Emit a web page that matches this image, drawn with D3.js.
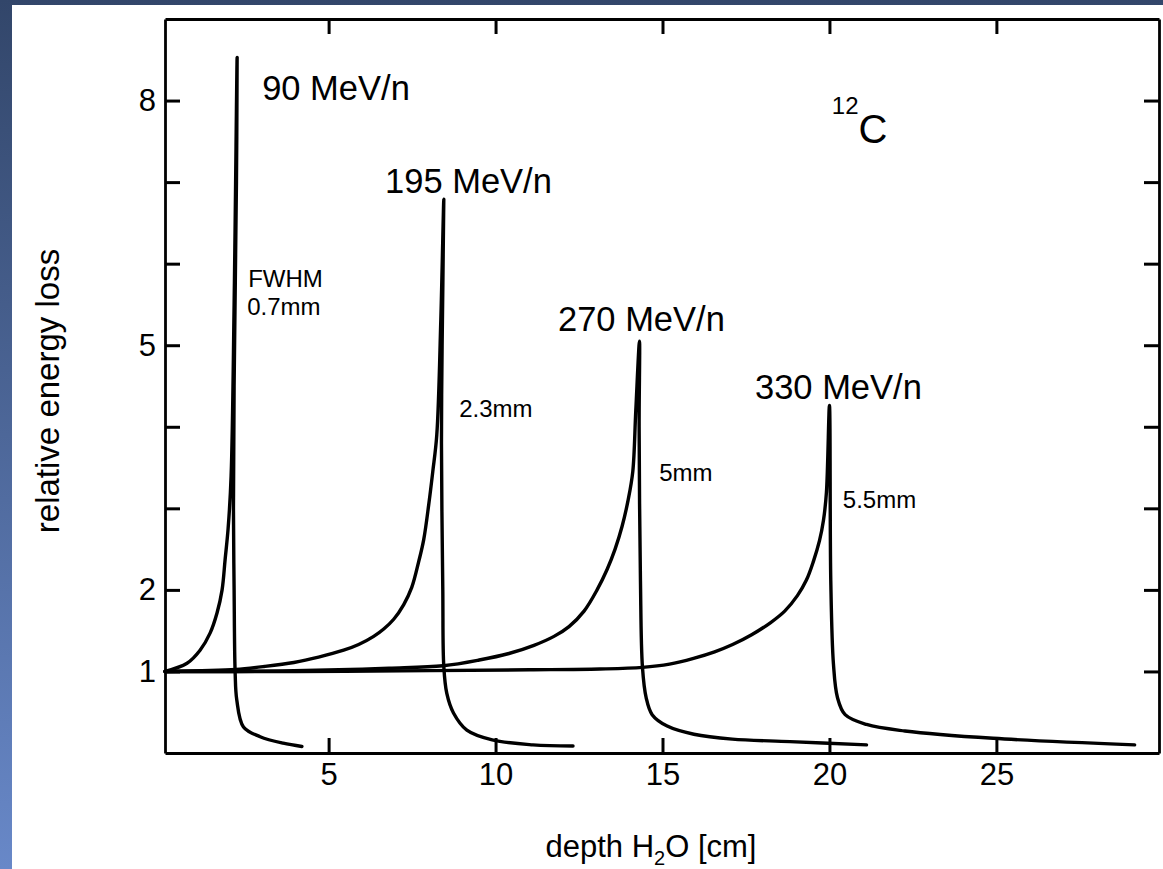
<!DOCTYPE html>
<html><head><meta charset="utf-8">
<script src="https://cdn.jsdelivr.net/npm/d3@7"></script>
<style>html,body{margin:0;padding:0;background:#fff;overflow:hidden}</style>
</head><body><svg id="c" width="1163" height="869"></svg>
<script>
// ---- data (depth in cm, relative energy loss) ----
const xTicks = [5, 10, 15, 20, 25];
const yTicks = [1, 2, 3, 4, 5, 6, 7, 8];
const yTickLabels = [1, 2, 5, 8];
const seriesNames = ["90 MeV/n", "195 MeV/n", "270 MeV/n", "330 MeV/n"];
const fwhmLabels = ["0.7mm", "2.3mm", "5mm", "5.5mm"];

const curve90 = [
  [0.1, 1.0], [0.76, 1.1], [1.15, 1.26], [1.45, 1.47], [1.66, 1.72], [1.81, 2.0],
  [1.90, 2.37], [1.99, 2.75], [2.08, 3.4], [2.17, 5.5], [2.26, 8.53],
  [2.24, 7.0], [2.17, 4.5], [2.15, 3.0], [2.17, 2.0], [2.20, 1.0], [2.25, 0.65],
  [2.45, 0.32], [2.95, 0.2], [3.64, 0.12], [4.2, 0.08]
];
const curve195 = [
  [0.1, 1.0], [1.2, 1.01], [2.22, 1.025], [3.06, 1.06], [3.96, 1.11], [4.70, 1.175], [5.45, 1.26],
  [5.90, 1.33], [6.35, 1.43], [6.65, 1.52], [6.95, 1.64], [7.25, 1.82], [7.49, 2.03],
  [7.70, 2.35], [7.85, 2.62], [8.00, 3.05], [8.12, 3.45], [8.24, 3.9], [8.36, 5.3],
  [8.45, 6.79],
  [8.40, 5.0], [8.38, 3.8], [8.42, 2.0], [8.45, 1.06], [8.54, 0.73], [8.74, 0.49],
  [9.14, 0.28], [9.9, 0.16], [11.12, 0.1], [12.32, 0.085]
];
const curve270 = [
  [0.1, 1.0], [2.2, 1.0], [5.31, 1.02], [6.81, 1.04], [8.43, 1.07], [9.51, 1.14],
  [10.40, 1.22], [11.15, 1.32], [11.75, 1.43], [12.20, 1.55], [12.65, 1.74], [13.04, 2.0],
  [13.34, 2.25], [13.58, 2.5], [13.79, 2.78], [13.97, 3.1], [14.11, 3.45], [14.20, 4.2],
  [14.31, 5.05],
  [14.30, 4.0], [14.34, 2.11], [14.40, 1.05], [14.51, 0.68], [14.69, 0.47], [15.14, 0.33],
  [15.94, 0.23], [17.09, 0.17], [18.82, 0.14], [21.11, 0.1]
];
const curve330 = [
  [0.1, 1.0], [4.0, 1.0], [8.03, 1.01], [11.02, 1.02], [13.12, 1.03], [14.40, 1.05],
  [15.21, 1.09], [15.93, 1.16], [16.56, 1.24], [17.10, 1.33], [17.67, 1.45], [18.24, 1.6],
  [18.66, 1.74], [19.04, 1.93], [19.31, 2.12], [19.52, 2.35], [19.70, 2.6], [19.82, 2.85],
  [19.91, 3.2], [20.0, 4.26],
  [20.04, 2.11], [20.12, 1.09], [20.24, 0.68], [20.47, 0.47], [21.11, 0.35], [22.26, 0.27],
  [24.9, 0.18], [29.14, 0.1]
];
const curves = [curve90, curve195, curve270, curve330];

// ---- layout ----
const W = 1163, H = 869;
const mLeft = 165, mRight = 1159, mTop = 19, mBottom = 753;
const FONT = "'Liberation Sans', Arial, Helvetica, sans-serif";

const svg = d3.select("#c");
const defs = svg.append("defs");
const grad = defs.append("linearGradient").attr("id", "bg")
  .attr("x1", 0).attr("y1", 0).attr("x2", 0).attr("y2", 1);
grad.append("stop").attr("offset", "0%").attr("stop-color", "#32466a");
grad.append("stop").attr("offset", "100%").attr("stop-color", "#6888c8");
svg.append("rect").attr("width", W).attr("height", H).attr("fill", "url(#bg)");
svg.append("rect").attr("x", 12).attr("y", 5).attr("width", W - 12).attr("height", H - 5).attr("fill", "#fff");

const x = d3.scaleLinear().domain([0.1, 29.87]).range([mLeft, mRight]);
const y = d3.scaleLinear().domain([0, 9]).range([mBottom, mTop]);

function styleAxis(g) {
  g.selectAll("path.domain").attr("stroke", "#000").attr("stroke-width", 2.8);
  g.selectAll(".tick line").attr("stroke", "#000").attr("stroke-width", 3);
  g.selectAll(".tick text").attr("fill", "#000").style("font-family", FONT).style("font-size", "31px");
}

svg.append("g").attr("transform", `translate(0,${mBottom})`)
  .call(d3.axisBottom(x).tickValues(xTicks).tickSize(-15).tickSizeOuter(0).tickPadding(10))
  .call(styleAxis);
svg.append("g").attr("transform", `translate(0,${mTop})`)
  .call(d3.axisTop(x).tickValues(xTicks).tickSize(-15).tickSizeOuter(0).tickFormat(""))
  .call(styleAxis);
svg.append("g").attr("transform", `translate(${mLeft},0)`)
  .call(d3.axisLeft(y).tickValues(yTicks).tickSize(-15).tickSizeOuter(0).tickPadding(9)
    .tickFormat(d => yTickLabels.includes(d) ? String(d) : ""))
  .call(styleAxis);
svg.append("g").attr("transform", `translate(${mRight},0)`)
  .call(d3.axisRight(y).tickValues(yTicks).tickSize(-15).tickSizeOuter(0).tickFormat(""))
  .call(styleAxis);

// ---- curves ----
const line = d3.line().x(d => x(d[0])).y(d => y(d[1])).curve(d3.curveCatmullRom.alpha(0.5));
svg.append("g").selectAll("path").data(curves).join("path")
  .attr("d", line).attr("fill", "none").attr("stroke", "#000")
  .attr("stroke-width", 3.4).attr("stroke-linejoin", "round").attr("stroke-linecap", "round");

// ---- annotations ----
const txt = (px, py, s, size) => svg.append("text").attr("x", px).attr("y", py)
  .attr("fill", "#000").style("font-family", FONT).style("font-size", size + "px").text(s);

const nameAt = [[3.01, 8.01], [6.69, 6.87], [11.87, 5.17], [17.77, 4.34]];
seriesNames.forEach((s, i) => txt(x(nameAt[i][0]), y(nameAt[i][1]), s, 34.5));

txt(x(2.59), y(5.71), "FWHM", 24);
const fwhmAt = [[2.56, 5.37], [8.91, 4.12], [14.9, 3.33], [20.4, 3.01]];
fwhmLabels.forEach((s, i) => txt(x(fwhmAt[i][0]), y(fwhmAt[i][1]), s, 24));

// 12C
const iso = svg.append("text").attr("x", x(20.07)).attr("y", y(7.83))
  .attr("fill", "#000").style("font-family", FONT);
iso.append("tspan").style("font-size", "24px").text("12");
iso.append("tspan").attr("dy", 29).style("font-size", "40px").text("C");

// axis titles
const xt = svg.append("text").attr("x", 651).attr("y", 857).attr("text-anchor", "middle")
  .attr("fill", "#000").style("font-family", FONT).style("font-size", "31px");
xt.append("tspan").text("depth H");
xt.append("tspan").attr("dy", 8).style("font-size", "20px").text("2");
xt.append("tspan").attr("dy", -8).text("O [cm]");

svg.append("text").attr("transform", "translate(59,391) rotate(-90)").attr("text-anchor", "middle")
  .attr("fill", "#000").style("font-family", FONT).style("font-size", "33px").text("relative energy loss");
</script></body></html>
